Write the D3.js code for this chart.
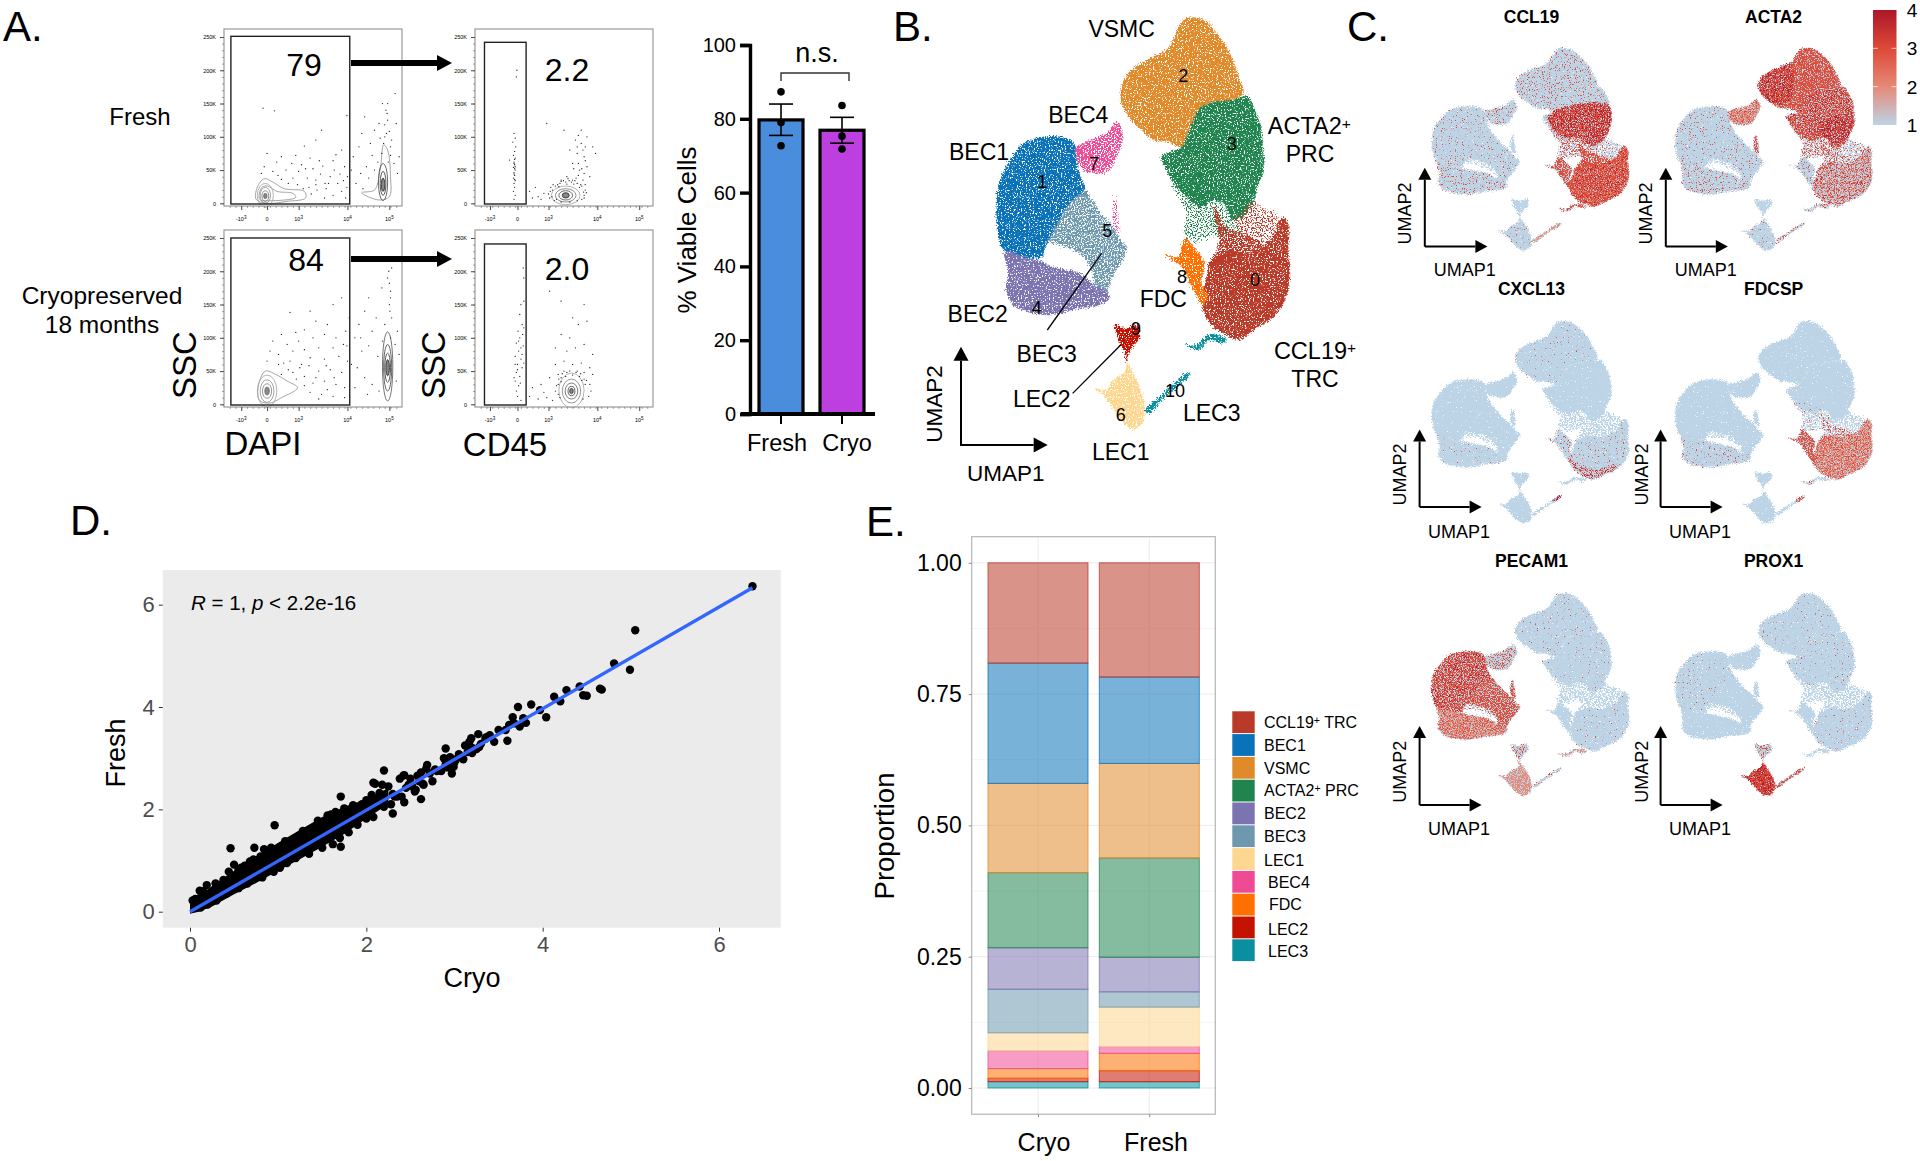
<!DOCTYPE html>
<html><head><meta charset="utf-8">
<style>html,body{margin:0;padding:0;background:#fff}svg{display:block;font-family:"Liberation Sans",Arial,sans-serif}</style>
<script src="https://cdn.jsdelivr.net/npm/d3@7"></script></head><body>
<script>
// ---------- DATA ----------
// A: flow cytometry. x = detector channel (0-310), y = SSC in thousands
const flowYTicks=[0,50,100,150,200,250];
const flowYLabels=['0','50K','100K','150K','200K','250K'];
const flowXTicksDapi=[30,75,130,215,288];
const flowXTicksCd45=[26,74,128,213,286];
const flowXLabels=['-10','0','10','10','10'];
const flowXExp=['3','','3','4','5'];
const dots1=[[68,143],[88,139],[214,132],[170,110],[140,86],[195,73],[160,95],[75,75],[100,70],[125,72],[150,68],[118,60],[135,58],[92,62],[85,48],[70,55],[65,45],[108,50],[130,48],[155,52],[172,56],[190,64],[205,80],[210,55],[185,40],[160,35],[145,38],[120,38],[100,36],[215,40],[198,30],[178,22],[162,20],[152,14],[190,12],[205,18],[212,8],[175,8],[225,70],[235,85],[240,105],[245,130],[255,90],[262,110],[270,120],[282,140],[285,150],[298,165],[280,100],[290,85],[275,75],[268,62],[258,72],[248,55],[238,45],[230,30],[242,22],[285,125],[276,150],[288,108],[300,120],[292,95],[296,60],[302,45],[305,70],[160,28],[176,30],[202,44],[214,24],[148,24],[94,42],[112,30],[128,28],[138,22],[168,44],[182,30],[208,34],[192,50],[166,64],[142,52],[280,118],[284,135],[278,90],[283,105],[272,98],[290,72],[286,62],[262,50],[252,38],[222,50]];
const dots2=[[68,105],[70,98],[66,92],[71,85],[69,78],[67,72],[70,68],[68,62],[69,58],[67,54],[70,50],[68,46],[69,42],[67,38],[70,34],[68,30],[69,24],[67,18],[70,12],[68,6],[72,190],[73,200],[60,65],[69,66],[68,60],[70,55],[69,52],[68,44],[69,36],[180,60],[190,70],[185,90],[178,75],[170,60],[160,40],[150,35],[195,100],[175,95],[165,80],[205,85],[210,75],[185,110],[180,102],[125,120],[155,110],[195,55],[200,40],[190,45],[180,42],[170,35],[120,15],[110,10],[100,8],[95,18],[115,6],[105,24],[135,20],[140,26],[148,30],[158,32],[168,32],[178,30],[186,26],[192,20],[190,12],[186,6],[178,4],[165,2],[150,2],[138,4],[130,8],[128,14],[132,24],[144,28],[154,34],[164,34],[174,34],[184,28],[192,28],[194,16],[190,8],[136,28],[150,33],[160,29],[172,29],[182,24],[189,17],[134,10],[131,18],[142,6],[146,25],[188,35],[176,38],[162,37],[186,52],[192,64],[172,52],[182,50],[188,80],[178,85],[192,85]];
const dots3=[[150,140],[115,138],[190,150],[205,160],[180,120],[160,125],[140,112],[125,108],[100,105],[85,95],[110,90],[130,95],[155,100],[175,105],[195,100],[212,110],[80,80],[95,75],[120,80],[140,82],[165,85],[190,85],[208,90],[75,65],[95,60],[115,65],[135,60],[150,70],[175,68],[200,72],[215,65],[100,45],[120,48],[140,42],[165,50],[185,52],[205,48],[140,28],[155,32],[175,35],[195,30],[210,25],[150,18],[170,15],[190,12],[210,10],[165,8],[180,22],[228,100],[235,120],[245,140],[252,160],[265,130],[275,175],[285,190],[292,205],[290,170],[288,150],[292,130],[280,120],[258,110],[240,80],[232,55],[245,40],[258,30],[270,20],[300,35],[305,75],[302,110],[298,90],[250,15],[228,25],[290,100],[104,62],[112,52],[126,38],[132,55],[148,58],[160,40],[178,58],[192,40],[214,88],[218,130],[288,182],[290,160],[287,200],[291,215],[289,140],[276,95],[268,72],[252,88],[238,100],[222,60]];
const dots4=[[80,150],[85,155],[78,135],[82,120],[75,110],[83,105],[78,100],[72,92],[84,88],[76,80],[70,72],[80,68],[74,60],[82,55],[72,48],[78,42],[70,35],[76,28],[72,20],[74,12],[80,6],[84,205],[85,190],[70,60],[68,40],[85,115],[130,170],[190,150],[170,130],[150,155],[180,120],[195,125],[165,100],[150,105],[140,85],[160,80],[175,85],[190,90],[205,75],[155,65],[170,60],[185,62],[140,60],[200,55],[130,40],[145,45],[160,48],[178,50],[190,48],[205,45],[115,30],[120,18],[100,25],[95,12],[110,8],[125,10],[135,6],[150,40],[145,30],[190,38],[200,30],[202,20],[140,20],[198,12],[188,8],[148,10],[145,15],[150,34],[158,42],[170,44],[182,42],[192,30],[152,46],[186,36],[146,38],[155,50],[165,50],[176,48],[184,46],[194,36],[142,28],[80,85],[76,95],[82,75],[74,52],[79,32],[85,62]];
// contour rings: cx, cy, rx, ry
const rings1=[[72,12,14,18],[72,12,9,12],[72,11,6,8],[72,11,3,4],[277,32,8,28],[277,30,5,18],[277,28,3,10]];
const rings2=[[158,12,25,14],[158,12,18,10],[158,12,12,7],[158,12,6,4]];
const rings3=[[75,20,17,24],[75,20,12,17],[75,20,8,11],[75,20,4,6],[285,57,9,52],[285,55,7,35],[285,55,5,22],[285,55,3,12]];
const rings4=[[168,21,22,26],[168,20,16,18],[168,20,11,12],[168,20,6,7],[168,20,3,4]];
const blob1a=[[70,37],[58,24],[56,6],[75,0],[110,3],[142,8],[140,18],[105,22],[85,32]];
const blob1b=[[66,24],[62,6],[85,4],[125,9],[120,15],[92,18],[76,26]];
const blob1c=[[240,16],[270,5],[288,10],[290,40],[285,80],[278,88],[272,50],[262,20]];
const blob3a=[[72,50],[60,28],[62,6],[80,2],[100,10],[128,25],[110,35],[90,45]];

// A: viability bars
const viabCats=['Fresh','Cryo'];
const viabMean=[79.7,76.9];
const viabHi=[84,80.4];
const viabLo=[75.5,73.4];
const viabFresh=[87.3,79,72.7];
const viabCryo=[83.6,75.3,71.8];
const viabTicks=[0,20,40,60,80,100];

// B / C: cluster outlines in UMAP space
const c2=[[935,52],[975,62],[1015,105],[1050,160],[1075,225],[1090,280],[1055,300],[1010,305],[965,320],[945,350],[925,400],[905,440],[860,425],[820,420],[790,395],[750,355],[725,310],[722,270],[740,225],[775,195],[810,175],[865,145],[885,105],[905,65]];
const c3=[[1105,290],[1120,320],[1140,370],[1150,450],[1152,510],[1130,570],[1120,610],[1090,650],[1060,660],[1030,610],[1000,600],[960,620],[930,600],[890,560],[855,500],[845,470],[905,440],[925,400],[945,350],[965,320],[1010,305],[1055,300]];
const c3t=[[880,550],[1000,590],[1060,650],[1090,700],[1000,710],[940,725],[915,700],[925,640]];
const c3r=[[1120,600],[1150,620],[1200,650],[1195,675],[1170,720],[1150,745],[1090,700],[1060,655],[1090,640]];
const c0=[[1210,650],[1228,680],[1225,740],[1230,800],[1228,860],[1205,920],[1170,960],[1130,985],[1075,1020],[1040,1005],[1000,980],[970,930],[965,890],[980,830],[990,790],[1030,760],[1050,750],[1100,760],[1170,720],[1195,670]];
const c0b=[[1005,620],[1040,680],[1090,700],[1150,740],[1050,775],[990,800],[1020,720],[1010,680]];
const c8=[[915,715],[945,745],[975,790],[965,850],[985,885],[970,915],[935,860],[905,800],[855,765],[895,770]];
const c1=[[510,408],[560,415],[585,435],[590,480],[600,525],[615,570],[570,610],[545,650],[520,700],[495,745],[485,775],[430,770],[375,755],[352,680],[350,610],[360,540],[395,475],[430,430]];
const c5=[[615,570],[640,600],[665,640],[700,680],[725,720],[742,745],[725,790],[700,830],[680,870],[645,860],[640,820],[610,770],[570,745],[540,735],[505,720],[520,690],[545,650],[570,610]];
const c4=[[375,755],[430,770],[485,785],[520,800],[570,810],[610,825],[650,860],[680,870],[688,895],[660,915],[600,925],[520,945],[460,940],[400,915],[378,870],[385,820]];
const c7=[[712,365],[730,410],[715,460],[690,510],[665,520],[610,510],[590,475],[590,440],[620,425],[680,400]];
const c7b=[[710,585],[720,640],[722,700],[700,660]];
const c9=[[705,975],[740,985],[775,975],[780,1010],[760,1040],[745,1065],[740,1090],[735,1060],[720,1030],[710,1000]];
const c6=[[742,1090],[770,1140],[790,1190],[795,1240],[785,1275],[760,1288],[730,1270],[700,1225],[675,1190],[645,1165],[680,1170],[700,1140],[735,1115]];
const c10a=[[795,1235],[850,1180],[925,1118],[930,1124],[855,1192],[810,1238]];
const c10b=[[912,1030],[950,1035],[985,1005],[1040,1015],[1030,1030],[990,1020],[955,1050]];
// sub-zones used by the expression maps
const z3low=[[870,480],[930,420],[1140,400],[1152,510],[1120,610],[1060,650],[1000,600],[930,590]];
const z2left=[[725,310],[722,270],[740,225],[775,195],[865,145],[880,260],[860,380],[790,395]];
const z3dark=[[1000,500],[1140,480],[1140,570],[1090,640],[1030,610]];
const z0edge=[[965,890],[1000,980],[1040,1005],[1075,1020],[1130,985],[1170,960],[1180,930],[1090,960],[1010,930]];
const z10tip=[[890,1146],[925,1118],[930,1124],[895,1155]];
const zGapTop=[[505,715],[545,735],[610,765],[640,815],[600,790],[540,760],[495,755]];
const zGapLow=[[480,780],[540,800],[610,825],[650,865],[580,830],[520,815]];

const clusterNames=['c2','c3','c3t','c3r','c0b','c0','c8','c1','c5','c4','c7','c7b','c9','c6','c10a','c10b'];
const clusterColors=['#e08a2a','#20844f','#20844f','#b93a28','#b93a28','#b93a28','#ff7000','#0a72b8','#6e98ae','#7b74b0','#ef4a96','#ef4a96','#c41200','#fdd68f','#0a8fa0','#0a8fa0'];
const clusterNumbers=['0','1','2','3','4','5','6','7','8','9','10'];
const numberU=[1125,487,910,1055,470,682,722,642,906,768,885];
const numberV=[840,545,227,430,922,692,1245,490,830,987,1173];

// C: gene expression layers [zone, density, colour]
const SAL='#e58a78',RED='#de4a38',DRK='#b01a2a';
const geneCCL19=[['c2','sp',RED],['c3','sp',RED],['z3low','de',RED],['z3low','me',DRK],['c3t','me',RED],['c0','de',SAL],['c0','de',RED],['c0','sp',DRK],['c0b','de',RED],['c3r','sp',RED],['c8','de',RED],['c1','xs',RED],['c4','sp',RED],['c5','xs',RED],['c7','sp',RED],['c6','xs',RED],['c10a','de',SAL],['c10b','de',RED]];
const geneACTA2=[['c2','de',RED],['c2','me',RED],['z2left','me',DRK],['c3','de',RED],['c3','sp',DRK],['z3dark','me',DRK],['c3t','me',RED],['c3r','sp',RED],['c0','me',SAL],['c0','me',RED],['c0','xs',DRK],['c0b','me',RED],['c7','de',SAL],['c7','me',RED],['c7b','de',RED],['c1','xs',RED],['c4','sp',RED],['c5','xs',RED],['c8','sp',RED],['c6','xs',RED],['c10a','me',RED],['c10b','me',RED]];
const geneCXCL13=[['c0','xs',RED],['z0edge','me',RED],['z0edge','sp',DRK],['c8','sp',RED],['z10tip','de',DRK],['c2','xxs',RED],['c4','xxs',RED]];
const geneFDCSP=[['c0','de',SAL],['c0','me',RED],['c0b','me',RED],['c8','de',RED],['c3t','xs',RED],['c4','xs',RED],['z10tip','de',RED],['c10b','sp',RED]];
const genePECAM1=[['c1','de',RED],['c1','sp',DRK],['c4','de',SAL],['c4','me',RED],['c5','de',RED],['zGapTop','sp',RED],['zGapLow','sp',RED],['c7','me',RED],['c7b','de',RED],['c6','de',SAL],['c9','me',RED],['c10a','me',RED],['c10b','de',SAL],['c2','xxs',RED],['c3','xxs',RED],['c0','xxs',RED]];
const genePROX1=[['c6','de',RED],['c6','de',RED],['c6','me',DRK],['c9','me',RED],['c10a','de',RED],['c2','xxs',RED],['c3','xxs',RED],['c0','xxs',RED],['c1','xxs',RED]];
const geneTitles=['CCL19','ACTA2','CXCL13','FDCSP','PECAM1','PROX1'];
const expTicks=[1,2,3,4];

// D: bulk expression scatter
const bandX=[0,0.1,0.25,0.5,0.75,1,1.25,1.5,1.75,2,2.25];
const bandLow=[-0.04,0.0,0.1,0.34,0.56,0.8,1.03,1.27,1.52,1.82,2.1];
const bandHigh=[0.22,0.3,0.5,0.8,1.08,1.35,1.6,1.85,2.05,2.2,2.42];
const scatterCryo=[6.38,5.05,4.99,4.81,4.65,4.67,4.5,4.46,4.42,4.27,4.2,4.13,4.04,3.97,3.87,3.72,3.66,3.81,3.74,3.6,3.45,3.58,3.27,3.36,3.19,2.9,2.97,2.99,2.2,2.69,2.43,2.62,2.43,2.3,2.08,1.71,0.96,0.46,0.73,0.84,1.71,0.19,0.11,0.29,
 0.03,0.06,0.12,0.15,0.33,0.38,0.44,0.5,0.55,0.62,0.68,0.72,0.8,0.92,0.98,1.08,1.14,1.22,1.28,1.32,1.4,1.45,1.52,1.6,1.65,1.75,1.85,1.95,2.0,2.06,2.1,2.18,2.25,2.3,2.38,2.42,2.5,2.58,2.62,2.68,2.78,2.88,2.95,3.05,3.12,3.17,3.2,3.28,3.35,3.4,
 0.12,0.2,0.3,0.42,0.55,0.65,0.82,0.95,1.02,1.1,1.2,1.35,1.5,1.62,1.7,1.8,1.9,2.0,2.08,2.2,2.28,2.4,2.55,2.65,2.75,2.85,3.0,3.1,3.2,3.25,
 2.35,2.45,2.52,2.6,2.72,2.8,2.92,3.02,3.08,3.15,3.22,3.3,3.5,3.62,3.68,3.78,0.58,0.7,1.18,1.38,1.56,1.9,2.15,2.32,2.48,2.56,2.64,2.9,2.95,1.48,1.68];
const scatterFresh=[6.36,5.5,4.73,4.85,4.36,4.34,4.22,4.23,4.4,4.33,4.11,4.2,3.8,3.94,4.05,4.0,3.8,3.69,3.62,3.34,3.32,3.55,3.47,3.41,3.39,3.19,2.7,2.83,2.76,2.87,2.67,2.2,2.14,1.92,2.52,2.25,1.69,1.24,1.25,1.22,1.27,0.52,0.41,0.55,
 0.22,0.25,0.28,0.4,0.52,0.62,0.78,0.92,0.82,0.9,0.98,1.02,1.08,1.25,1.22,1.38,1.32,1.35,1.58,1.55,1.62,1.78,1.75,1.9,1.95,2.02,2.08,2.1,2.18,2.28,2.5,2.48,2.45,2.3,2.6,2.66,2.6,2.66,2.72,2.8,2.78,3.0,3.02,3.08,3.25,3.32,3.2,3.22,3.38,3.45,
 0.08,0.14,0.22,0.36,0.46,0.55,0.67,0.78,0.86,0.95,1.05,1.13,1.25,1.32,1.44,1.55,1.7,1.82,1.85,2.05,2.1,2.25,2.35,2.48,2.55,2.75,2.92,2.98,3.1,3.18,
 2.25,2.42,2.45,2.55,2.7,2.75,2.82,2.98,3.02,3.12,3.18,3.28,3.55,3.65,3.68,3.78,0.86,0.98,1.08,1.46,1.88,1.98,2.32,2.25,2.48,2.38,2.5,2.88,2.9,1.42,1.8];
const fitCryo=[0,6.38];
const fitFresh=[0,6.33];
const scatterTicks=[0,2,4,6];

// E: cluster proportions
const propCats=['Cryo','Fresh'];
const propNames=['CCL19+ TRC','BEC1','VSMC','ACTA2+ PRC','BEC2','BEC3','LEC1','BEC4','FDC','LEC2','LEC3'];
const propColors=['#b93a28','#0a72b8','#e08a2a','#20844f','#7b74b0','#6e98ae','#fdd68f','#ef4a96','#ff7000','#c41200','#0a8fa0'];
const propCryo=[0.191,0.229,0.17,0.143,0.079,0.083,0.034,0.034,0.0185,0.0065,0.012];
const propFresh=[0.2175,0.1645,0.18,0.189,0.066,0.029,0.075,0.013,0.033,0.021,0.012];
const propTicks=[0,0.25,0.5,0.75,1];
const propMinor=[0.125,0.375,0.625,0.875];

// ---------- DRAW ----------
const W=1920,H=1161;
const svg=d3.select('body').append('svg').attr('width',W).attr('height',H).attr('viewBox',`0 0 ${W} ${H}`);
const defs=svg.append('defs');
function txt(g,x,y,s,o={}){
  const e=g.append('text').attr('x',x).attr('y',y).attr('dy','.36em').attr('text-anchor',o.a||'middle')
    .attr('font-size',o.s||20).attr('fill',o.f||'#000').text(s);
  if(o.w)e.attr('font-weight',o.w);
  if(o.st)e.attr('font-style',o.st);
  if(o.r)e.attr('transform',`rotate(${o.r} ${x} ${y})`);
  return e;
}
function sup(g,x,y,base,tail,o={}){
  const e=txt(g,x,y,'',o);
  e.append('tspan').text(base);
  e.append('tspan').attr('dy','-.38em').attr('font-size',(o.s||20)*.66).text('+');
  if(tail)e.append('tspan').attr('dy','.25em').text(' '+tail);
  return e;
}
function arrow(g,x1,y1,x2,y2,w,hl,hw){
  const a=Math.atan2(y2-y1,x2-x1),c=Math.cos(a),s=Math.sin(a);
  g.append('line').attr('x1',x1).attr('y1',y1).attr('x2',x2-c*hl).attr('y2',y2-s*hl).attr('stroke','#000').attr('stroke-width',w);
  const bx=x2-c*hl,by=y2-s*hl;
  g.append('path').attr('d',`M${x2},${y2}L${bx-s*hw/2},${by+c*hw/2}L${bx+s*hw/2},${by-c*hw/2}Z`).attr('fill','#000');
}
const root=svg.append('g');
[['A.',3,26],['B.',893,26],['C.',1347,26],['D.',70,520],['E.',866,521]].forEach(d=>txt(root,d[1],d[2],d[0],{a:'start',s:42}));

// ---- Panel A flow plots ----
const A=svg.append('g');
const flowPanels=[
 {x0:224,y0:29,gx:[12,219],top:251,dots:dots1,rings:rings1,blobs:[blob1a,blob1b,blob1c],ticks:flowXTicksDapi,num:'79',nx:304,ny:64},
 {x0:475,y0:29,gx:[16.5,89],top:242,dots:dots2,rings:rings2,blobs:[],ticks:flowXTicksCd45,num:'2.2',nx:567,ny:69},
 {x0:224,y0:230,gx:[12,219],top:250,dots:dots3,rings:rings3,blobs:[blob3a],ticks:flowXTicksDapi,num:'84',nx:306,ny:259},
 {x0:475,y0:230,gx:[16.5,89],top:241,dots:dots4,rings:rings4,blobs:[],ticks:flowXTicksCd45,num:'2.0',nx:567,ny:268}];
flowPanels.forEach(p=>{
  const w=178,h=177;
  const x=d3.scaleLinear([0,310],[p.x0,p.x0+w]);
  const y=d3.scaleLinear([-4,262],[p.y0+h,p.y0]);
  const g=A.append('g');
  g.append('rect').attr('x',p.x0).attr('y',p.y0).attr('width',w).attr('height',h).attr('fill','#fff').attr('stroke','#999').attr('stroke-width',1.2);
  const lineC=d3.line().x(d=>x(d[0])).y(d=>y(d[1])).curve(d3.curveCatmullRomClosed);
  p.blobs.forEach(b=>g.append('path').attr('d',lineC(b)).attr('fill','none').attr('stroke','#9a9a9a').attr('stroke-width',.9));
  const ringShade=d3.scaleLinear([0,p.rings.length-1],['#aaa','#333']);
  p.rings.forEach((r,i)=>g.append('ellipse').attr('cx',x(r[0])).attr('cy',y(r[1]))
    .attr('rx',x(r[2])-x(0)).attr('ry',y(0)-y(r[3])).attr('fill',i===p.rings.length-1||(p.rings.length>5&&i===3)?'#555':'none').attr('fill-opacity',.7)
    .attr('stroke',ringShade(i)).attr('stroke-width',.9));
  g.selectAll('circle.d').data(p.dots).join('circle').attr('class','d').attr('cx',d=>x(d[0])).attr('cy',d=>y(d[1])).attr('r',.65).attr('fill','#222');
  g.append('rect').attr('x',x(p.gx[0])).attr('y',y(p.top)).attr('width',x(p.gx[1])-x(p.gx[0])).attr('height',y(-1)-y(p.top)).attr('fill','none').attr('stroke','#222').attr('stroke-width',1.4);
  const ya=d3.axisLeft(y).tickValues(flowYTicks).tickFormat((d,i)=>flowYLabels[i]).tickSize(4);
  const yg=g.append('g').attr('transform',`translate(${p.x0},0)`).call(ya);
  yg.select('.domain').remove();yg.selectAll('text').attr('font-size',5.5).attr('font-family','inherit').attr('dx',-1);
  yg.selectAll('line').attr('stroke','#444');
  const ym=d3.axisLeft(y).tickValues(d3.range(0,260,10)).tickFormat('').tickSize(2);
  const ymg=g.append('g').attr('transform',`translate(${p.x0},0)`).call(ym);ymg.select('.domain').remove();ymg.selectAll('line').attr('stroke','#666').attr('stroke-width',.6);
  const xa=d3.axisBottom(x).tickValues(p.ticks).tickFormat('').tickSize(4);
  const xg=g.append('g').attr('transform',`translate(0,${p.y0+h})`).call(xa);
  xg.select('.domain').remove();xg.selectAll('line').attr('stroke','#444');
  const xm=d3.axisBottom(x).tickValues(d3.range(10,310,10)).tickFormat('').tickSize(2);
  const xmg=g.append('g').attr('transform',`translate(0,${p.y0+h})`).call(xm);xmg.select('.domain').remove();xmg.selectAll('line').attr('stroke','#666').attr('stroke-width',.6);
  p.ticks.forEach((t,i)=>{
    const e=txt(g,x(t),p.y0+h+13,flowXLabels[i],{s:5.5});
    if(flowXExp[i])e.append('tspan').attr('dy',-2).attr('font-size',4.5).text(flowXExp[i]);
  });
  txt(g,p.nx,p.ny,p.num,{s:32});
});
arrow(A,351,63,452,63,6,15,16);
arrow(A,351,259,452,259,6,15,16);
txt(A,140,116,'Fresh',{s:24});
txt(A,102,295,'Cryopreserved',{s:24.5});
txt(A,102,324,'18 months',{s:24.5});
txt(A,184,365,'SSC',{s:33,r:-90});
txt(A,433,365,'SSC',{s:33,r:-90});
txt(A,263,443,'DAPI',{s:33});
txt(A,505,444,'CD45',{s:33});

// ---- Panel A bars ----
const Ab=svg.append('g');
const vy=d3.scaleLinear([0,100],[414,45]);
const vc=['#4a8ddc','#be3fe0'];
viabCats.forEach((c,i)=>{
  const cx=[781,842][i],hw=22;
  Ab.append('rect').attr('x',cx-hw).attr('y',vy(viabMean[i])).attr('width',2*hw).attr('height',vy(0)-vy(viabMean[i])).attr('fill',vc[i]).attr('stroke','#000').attr('stroke-width',3.2);
  Ab.append('line').attr('x1',cx).attr('x2',cx).attr('y1',vy(viabHi[i])).attr('y2',vy(viabLo[i])).attr('stroke','#000').attr('stroke-width',1.6);
  [viabHi[i],viabLo[i]].forEach(v=>Ab.append('line').attr('x1',cx-12).attr('x2',cx+12).attr('y1',vy(v)).attr('y2',vy(v)).attr('stroke','#000').attr('stroke-width',1.6));
  (i?viabCryo:viabFresh).forEach(v=>Ab.append('circle').attr('cx',cx).attr('cy',vy(v)).attr('r',3.8).attr('fill','#000'));
  Ab.append('line').attr('x1',cx).attr('x2',cx).attr('y1',414).attr('y2',424).attr('stroke','#000').attr('stroke-width',2);
});
const vya=Ab.append('g').attr('transform','translate(750,0)').call(d3.axisLeft(vy).tickValues(viabTicks).tickSize(10).tickPadding(4));
vya.select('.domain').attr('stroke-width',3.4);vya.selectAll('line').attr('stroke-width',3.4);
vya.selectAll('text').attr('font-size',20).attr('font-family','inherit');
Ab.append('line').attr('x1',741).attr('x2',875).attr('y1',414).attr('y2',414).attr('stroke','#000').attr('stroke-width',3.8);
txt(Ab,777,443,'Fresh',{s:23.5});
txt(Ab,847,443,'Cryo',{s:23.5});
txt(Ab,687,230,'% Viable Cells',{s:26,r:-90});
txt(Ab,817,52,'n.s.',{s:27});
Ab.append('path').attr('d','M781,81V73H849V81').attr('fill','none').attr('stroke','#333').attr('stroke-width',1.4);

// ---- UMAP helpers ----
const zones={c0,c0b,c1,c2,c3,c3t,c3r,c4,c5,c6,c7,c7b,c8,c9,c10a,c10b,z3low,z2left,z3dark,z0edge,z10tip,zGapTop,zGapLow};
function speckle(id,t,seed,freq,disp){
  const k=9;
  const f=defs.append('filter').attr('id',id).attr('x','-8%').attr('y','-8%').attr('width','116%').attr('height','116%').attr('color-interpolation-filters','sRGB');
  f.append('feTurbulence').attr('type','fractalNoise').attr('baseFrequency',freq).attr('numOctaves',2).attr('seed',seed).attr('result','n');
  f.append('feColorMatrix').attr('in','n').attr('type','matrix').attr('values',`0 0 0 0 0 0 0 0 0 0 0 0 0 0 0 ${k} 0 0 0 ${-k*t}`).attr('result','m');
  f.append('feDisplacementMap').attr('in','SourceGraphic').attr('in2','n').attr('scale',disp).attr('xChannelSelector','R').attr('yChannelSelector','G').attr('result','d');
  f.append('feComposite').attr('in','d').attr('in2','m').attr('operator','in');
}
speckle('bDense',0.31,3,0.75,7);
speckle('bMid',0.38,9,0.7,8);
speckle('bSparse',0.50,5,0.8,12);
speckle('base',0.2,7,0.8,6);
speckle('baseSparse',0.42,13,0.6,10);
const levels={xxs:0.70,xs:0.65,sp:0.60,me:0.52,de:0.40};
Object.entries(levels).forEach(([n,t],i)=>{[11,23,37].forEach(s=>speckle(`${n}${s}`,t,s+i,0.85,5));});

// ---- Panel B ----
const B=svg.append('g');
const bx=d3.scaleLinear([0,1500],[880,1380]),by=d3.scaleLinear([0,1500],[0,500]);
const bl=d3.line().x(d=>bx(d[0])).y(d=>by(d[1])).curve(d3.curveCatmullRomClosed);
clusterNames.forEach((n,i)=>{
  const sparse=(n==='c3t'||n==='c3r'||n==='c7b');
  const mid=(n==='c5'||n==='c0b'||n==='c7');
  B.append('path').attr('d',bl(zones[n])).attr('fill',clusterColors[i]).attr('filter',sparse?'url(#bSparse)':mid?'url(#bMid)':'url(#bDense)');
});
clusterNumbers.forEach((s,i)=>txt(B,bx(numberU[i]),by(numberV[i]),s,{s:18}));
const blabel=(u,v,s)=>txt(B,bx(u),by(v),s,{s:23});
blabel(725,85,'VSMC');blabel(595,345,'BEC4');blabel(297,455,'BEC1');blabel(293,942,'BEC2');blabel(500,1062,'BEC3');
blabel(485,1195,'LEC2');blabel(722,1355,'LEC1');blabel(995,1238,'LEC3');blabel(850,895,'FDC');
sup(B,bx(1288),by(378),'ACTA2','',{s:23.5});blabel(1290,462,'PRC');
sup(B,bx(1305),by(1052),'CCL19','',{s:23.5});blabel(1305,1137,'TRC');
[[665,760,502,990],[722,1035,578,1180]].forEach(l=>B.append('line').attr('x1',bx(l[0])).attr('y1',by(l[1])).attr('x2',bx(l[2])).attr('y2',by(l[3])).attr('stroke','#000').attr('stroke-width',1.3));
arrow(B,bx(243),by(1335),bx(243),by(1040),2,14,15);
arrow(B,bx(243),by(1335),bx(503),by(1335),2,14,15);
B.append('rect').attr('x',bx(243)-1).attr('y',by(1335)-1).attr('width',2).attr('height',2);
txt(B,bx(377),by(1420),'UMAP1',{s:22.5});
txt(B,bx(163),by(1212),'UMAP2',{s:22.5,r:-90});

// ---- Panel C ----
const Cp=svg.append('g');
const panels=[
 {t:0,layers:geneCCL19,x0:1432,y0:48,h:202,tx:1531.5,ty:16.5,ax:1424.8,ab:246.6,at:167.7,ar:1487.4,u1:1464.7,u1y:270,u2:1404.8,u2y:213.5},
 {t:1,layers:geneACTA2,x0:1675.4,y0:48,h:202,tx:1773.6,ty:16.5,ax:1665.8,ab:246.6,at:167.7,ar:1727.8,u1:1705.8,u1y:270,u2:1645.8,u2y:213.5},
 {t:2,layers:geneCXCL13,x0:1432,y0:321,h:202,tx:1531.5,ty:288.6,ax:1419.6,ab:507,at:429.4,ar:1481.6,u1:1459,u1y:532,u2:1400,u2y:474.5},
 {t:3,layers:geneFDCSP,x0:1675.4,y0:321,h:202,tx:1773.6,ty:288.6,ax:1660.6,ab:507,at:429.4,ar:1722.6,u1:1700,u1y:532,u2:1641.7,u2y:474.5},
 {t:4,layers:genePECAM1,x0:1432,y0:593,h:202,tx:1531.5,ty:561,ax:1419.6,ab:805,at:726,ar:1481.6,u1:1459,u1y:829,u2:1400,u2y:771.7},
 {t:5,layers:genePROX1,x0:1675.4,y0:593,h:202,tx:1773.6,ty:561,ax:1660.6,ab:805,at:726,ar:1722.6,u1:1700,u1y:829,u2:1641.7,u2y:771.7}];
panels.forEach(p=>{
  const x=d3.scaleLinear([350,1230],[p.x0,p.x0+197]);
  const y=d3.scaleLinear([52,1285],[p.y0,p.y0+p.h]);
  const ln=d3.line().x(d=>x(d[0])).y(d=>y(d[1])).curve(d3.curveCatmullRomClosed);
  const g=Cp.append('g');
  clusterNames.forEach(n=>g.append('path').attr('d',ln(zones[n])).attr('fill','#bcd4e6').attr('filter',(n==='c3t'||n==='c0b'||n==='c3r')?'url(#baseSparse)':'url(#base)'));
  ['zGapTop','zGapLow'].forEach(n=>g.append('path').attr('d',ln(zones[n])).attr('fill','#bcd4e6').attr('filter','url(#baseSparse)'));
  p.layers.forEach((l,i)=>g.append('path').attr('d',ln(zones[l[0]])).attr('fill',l[2]).attr('filter',`url(#${l[1]}${[11,23,37][i%3]})`));
  txt(g,p.tx,p.ty,geneTitles[p.t],{s:17.5,w:'bold'});
  arrow(g,p.ax,p.ab,p.ax,p.at,2,12,13);
  arrow(g,p.ax,p.ab,p.ar,p.ab,2,12,13);
  txt(g,p.u1,p.u1y,'UMAP1',{s:18});
  txt(g,p.u2,p.u2y,'UMAP2',{s:18,r:-90});
});
const grad=defs.append('linearGradient').attr('id','cb').attr('x1',0).attr('x2',0).attr('y1',1).attr('y2',0);
[[0,'#bcd4e6'],[0.33,'#e58a78'],[0.66,'#de4a38'],[1,'#ab1728']].forEach(s=>grad.append('stop').attr('offset',s[0]).attr('stop-color',s[1]));
const cby=d3.scaleLinear([1,4],[125,10]);
Cp.append('rect').attr('x',1873).attr('y',10).attr('width',23.5).attr('height',115).attr('fill','url(#cb)');
expTicks.forEach(v=>{
  txt(Cp,1912,cby(v),String(v),{s:19});
  if(v>1&&v<4){Cp.append('line').attr('x1',1873).attr('x2',1878).attr('y1',cby(v)).attr('y2',cby(v)).attr('stroke','#fff').attr('stroke-opacity',.7);
  Cp.append('line').attr('x1',1891.5).attr('x2',1896.5).attr('y1',cby(v)).attr('y2',cby(v)).attr('stroke','#fff').attr('stroke-opacity',.7);}
});

// ---- Panel D ----
const D=svg.append('g');
const dx=d3.scaleLinear([0,6],[190,719]);
const dy=d3.scaleLinear([0,6],[911.7,604.7]);
D.append('rect').attr('x',162.8).attr('y',570).attr('width',618).attr('height',357.7).attr('fill','#ebebeb');
const da=d3.area().x(d=>dx(d)).y0((d,i)=>dy(bandLow[i])).y1((d,i)=>dy(bandHigh[i]));
D.append('path').attr('d',da(bandX)).attr('fill','#000');
D.selectAll('circle.s').data(scatterCryo).join('circle').attr('class','s').attr('cx',d=>dx(d)).attr('cy',(d,i)=>dy(scatterFresh[i])).attr('r',4.2).attr('fill','#000');
D.append('line').attr('x1',dx(fitCryo[0])).attr('y1',dy(fitFresh[0])).attr('x2',dx(fitCryo[1])).attr('y2',dy(fitFresh[1])).attr('stroke','#3366ff').attr('stroke-width',3.4);
const dxa=D.append('g').attr('transform','translate(0,927.7)').call(d3.axisBottom(dx).tickValues(scatterTicks).tickFormat(d3.format('d')).tickSize(4).tickPadding(5));
dxa.select('.domain').remove();dxa.selectAll('text').attr('font-size',22).attr('fill','#4d4d4d').attr('font-family','inherit');dxa.selectAll('line').attr('stroke','#333');
const dya=D.append('g').attr('transform','translate(162.8,0)').call(d3.axisLeft(dy).tickValues(scatterTicks).tickFormat(d3.format('d')).tickSize(4).tickPadding(4));
dya.select('.domain').remove();dya.selectAll('text').attr('font-size',22).attr('fill','#4d4d4d').attr('font-family','inherit');dya.selectAll('line').attr('stroke','#333');
txt(D,472,977,'Cryo',{s:27});
txt(D,115,753,'Fresh',{s:27,r:-90});
const ann=txt(D,191,603,'',{a:'start',s:20.5});
ann.append('tspan').attr('font-style','italic').text('R');
ann.append('tspan').text(' = 1, ');
ann.append('tspan').attr('font-style','italic').text('p');
ann.append('tspan').text(' < 2.2e-16');

// ---- Panel E ----
const E=svg.append('g');
const ey=d3.scaleLinear([0,1],[1088,562.8]);
const ex=d3.scalePoint(propCats,[1038,1149.3]);
const fx0=971.7,fx1=1215.3,fy0=536.7,fy1=1114.2;
E.append('rect').attr('x',fx0).attr('y',fy0).attr('width',fx1-fx0).attr('height',fy1-fy0).attr('fill','#fff');
propMinor.forEach(v=>E.append('line').attr('x1',fx0).attr('x2',fx1).attr('y1',ey(v)).attr('y2',ey(v)).attr('stroke','#f5f5f5'));
propTicks.forEach(v=>E.append('line').attr('x1',fx0).attr('x2',fx1).attr('y1',ey(v)).attr('y2',ey(v)).attr('stroke','#ececec'));
propCats.forEach(c=>E.append('line').attr('x1',ex(c)).attr('x2',ex(c)).attr('y1',fy0).attr('y2',fy1).attr('stroke','#ececec'));
const rows=propCats.map((c,ci)=>{const r={cat:c};propNames.forEach((n,i)=>r[n]=(ci?propFresh:propCryo)[i]);return r;});
const stacked=d3.stack().keys(propNames.slice().reverse())(rows);
stacked.forEach(s=>{
  const col=propColors[propNames.indexOf(s.key)];
  E.selectAll(null).data(s).join('rect').attr('x',d=>ex(d.data.cat)-50).attr('width',100).attr('y',d=>ey(d[1])).attr('height',d=>ey(d[0])-ey(d[1]))
   .attr('fill',col).attr('fill-opacity',.55).attr('stroke',col).attr('stroke-opacity',.75).attr('stroke-width',1);
});
E.append('rect').attr('x',fx0).attr('y',fy0).attr('width',fx1-fx0).attr('height',fy1-fy0).attr('fill','none').attr('stroke','#b5b5b5').attr('stroke-width',1.2);
const eya=E.append('g').attr('transform',`translate(${fx0},0)`).call(d3.axisLeft(ey).tickValues(propTicks).tickFormat(d3.format('.2f')).tickSize(3).tickPadding(7));
eya.select('.domain').remove();eya.selectAll('text').attr('font-size',23).attr('font-family','inherit');eya.selectAll('line').attr('stroke','#888');
const exa=E.append('g').attr('transform',`translate(0,${fy1})`).call(d3.axisBottom(ex).tickFormat('').tickSize(3));
exa.select('.domain').remove();exa.selectAll('line').attr('stroke','#888');
propCats.forEach((c,i)=>txt(E,[1044,1156][i],1142,c,{s:25}));
txt(E,884,836,'Proportion',{s:27.5,r:-90});
const legY=d3.scaleBand(propNames,[710.8,961.6]);
const legInd=[0,0,0,0,0,0,0,4,5,4,4];
const legNudge=[0,0,0,0,0,0,1.5,0,0,1.5,1.5];
propNames.forEach((n,i)=>{
  E.append('rect').attr('x',1232.3).attr('y',legY(n)+.5).attr('width',22.4).attr('height',legY.bandwidth()-1).attr('fill',propColors[i]);
  const ly=legY(n)+legY.bandwidth()/2+legNudge[i];
  if(n.includes('+')){const p=n.split('+');sup(E,1264,ly,p[0],p[1].trim(),{s:16,a:'start'});}
  else txt(E,1264+legInd[i],ly,n,{s:16,a:'start'});
});
</script></body></html>
